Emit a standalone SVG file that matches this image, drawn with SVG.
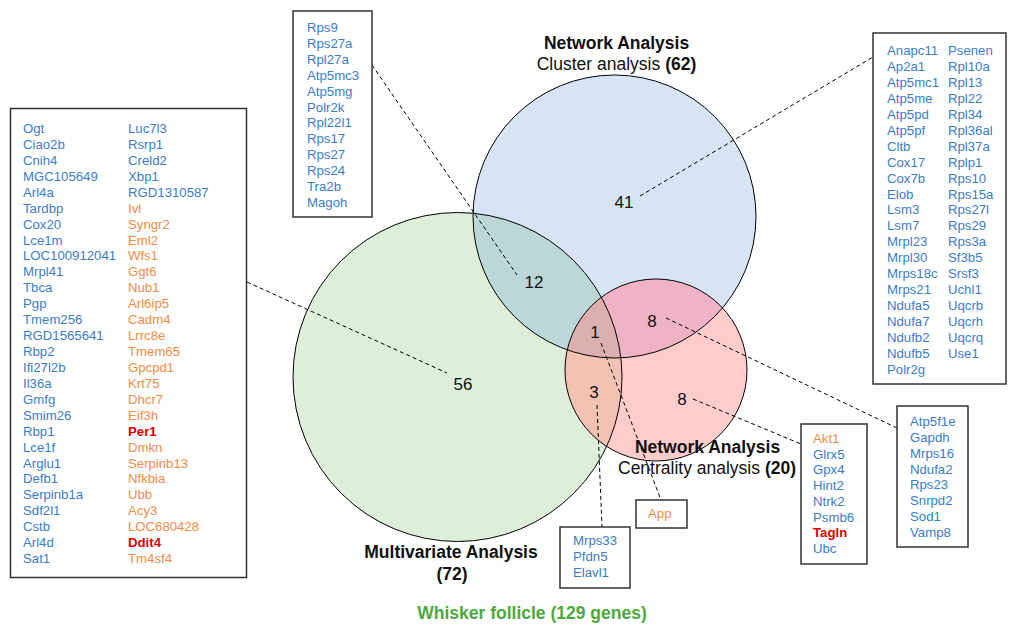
<svg xmlns="http://www.w3.org/2000/svg" width="1012" height="626" viewBox="0 0 1012 626">
<style>
text{font-family:"Liberation Sans",Arial,sans-serif}
.g{font-size:13.2px;fill:#3a7dc9}
.o{fill:#f28b45}
.r{fill:#e00000;font-weight:bold}
.box{fill:#fff;stroke:#333;stroke-width:1.5}
.lead{fill:none;stroke:#000;stroke-width:1;stroke-dasharray:4 3}
.num{font-size:17px;fill:#111;text-anchor:middle}
.h{font-size:17.5px;fill:#111;text-anchor:middle}
.bold{font-weight:bold}
.ring{fill:none;stroke:#000;stroke-width:1}
</style>
<defs>
<clipPath id="cB"><circle cx="614.5" cy="216.5" r="141.5"/></clipPath>
<clipPath id="cG"><circle cx="457.5" cy="377" r="164.5"/></clipPath>
<clipPath id="cP"><circle cx="656" cy="370" r="91"/></clipPath>
</defs>
<rect width="1012" height="626" fill="#fff"/>
<g id="venn">
<circle cx="457.5" cy="377" r="164.5" fill="#ddefd9"/>
<circle cx="614.5" cy="216.5" r="141.5" fill="#d6e4f3"/>
<circle cx="656" cy="370" r="91" fill="#ffcccc"/>
<circle cx="614.5" cy="216.5" r="141.5" fill="#bcd7d8" clip-path="url(#cG)"/>
<circle cx="656" cy="370" r="91" fill="#eeb4c6" clip-path="url(#cB)"/>
<circle cx="656" cy="370" r="91" fill="#f4c2b2" clip-path="url(#cG)"/>
<g clip-path="url(#cG)"><circle cx="656" cy="370" r="91" fill="#dcb0ae" clip-path="url(#cB)"/></g>
<circle class="ring" cx="457.5" cy="377" r="164.5"/>
<circle class="ring" cx="614.5" cy="216.5" r="141.5"/>
<circle class="ring" cx="656" cy="370" r="91"/>
</g>
<g id="connectors">
<line class="lead" x1="247" y1="282" x2="447" y2="373"/>
<line class="lead" x1="372" y1="65" x2="517" y2="275"/>
<line class="lead" x1="640" y1="196" x2="873" y2="57"/>
<line class="lead" x1="666" y1="318" x2="897" y2="428"/>
<line class="lead" x1="693" y1="399" x2="801" y2="444"/>
<line class="lead" x1="601" y1="343" x2="661" y2="500"/>
<line class="lead" x1="597" y1="405" x2="602" y2="527"/>
</g>
<g id="counts">
<text class="num" x="624" y="208">41</text>
<text class="num" x="534" y="288">12</text>
<text class="num" x="652" y="327">8</text>
<text class="num" x="595" y="338">1</text>
<text class="num" x="463" y="390">56</text>
<text class="num" x="594" y="398">3</text>
<text class="num" x="682" y="405">8</text>
</g>
<g id="label-cluster">
<text class="h bold" x="616.5" y="49">Network Analysis</text>
<text class="h" x="616.5" y="70">Cluster analysis <tspan class="bold">(62)</tspan></text>
</g>
<g id="label-centrality">
<text class="h bold" x="707.5" y="453">Network Analysis</text>
<text class="h" x="707" y="474">Centrality analysis <tspan class="bold">(20)</tspan></text>
</g>
<g id="label-multivariate">
<text class="h bold" x="451" y="558">Multivariate Analysis</text>
<text class="h bold" x="452" y="580">(72)</text>
</g>
<g id="title">
<text class="h bold" x="532" y="619" style="fill:#4caa3c">Whisker follicle (129 genes)</text>
</g>
<g id="box-multivariate">
<rect class="box" x="10.5" y="108.5" width="236" height="469"/>
<text class="g" x="23" y="133"><tspan x="23" dy="0">Ogt</tspan><tspan x="23" dy="15.93">Ciao2b</tspan><tspan x="23" dy="15.93">Cnih4</tspan><tspan x="23" dy="15.93">MGC105649</tspan><tspan x="23" dy="15.93">Arl4a</tspan><tspan x="23" dy="15.93">Tardbp</tspan><tspan x="23" dy="15.93">Cox20</tspan><tspan x="23" dy="15.93">Lce1m</tspan><tspan x="23" dy="15.93">LOC100912041</tspan><tspan x="23" dy="15.93">Mrpl41</tspan><tspan x="23" dy="15.93">Tbca</tspan><tspan x="23" dy="15.93">Pgp</tspan><tspan x="23" dy="15.93">Tmem256</tspan><tspan x="23" dy="15.93">RGD1565641</tspan><tspan x="23" dy="15.93">Rbp2</tspan><tspan x="23" dy="15.93">Ifi27l2b</tspan><tspan x="23" dy="15.93">Il36a</tspan><tspan x="23" dy="15.93">Gmfg</tspan><tspan x="23" dy="15.93">Smim26</tspan><tspan x="23" dy="15.93">Rbp1</tspan><tspan x="23" dy="15.93">Lce1f</tspan><tspan x="23" dy="15.93">Arglu1</tspan><tspan x="23" dy="15.93">Defb1</tspan><tspan x="23" dy="15.93">Serpinb1a</tspan><tspan x="23" dy="15.93">Sdf2l1</tspan><tspan x="23" dy="15.93">Cstb</tspan><tspan x="23" dy="15.93">Arl4d</tspan><tspan x="23" dy="15.93">Sat1</tspan></text>
<text class="g" x="128" y="133"><tspan x="128" dy="0">Luc7l3</tspan><tspan x="128" dy="15.93">Rsrp1</tspan><tspan x="128" dy="15.93">Creld2</tspan><tspan x="128" dy="15.93">Xbp1</tspan><tspan x="128" dy="15.93">RGD1310587</tspan><tspan class="o" x="128" dy="15.93">Ivl</tspan><tspan class="o" x="128" dy="15.93">Syngr2</tspan><tspan class="o" x="128" dy="15.93">Eml2</tspan><tspan class="o" x="128" dy="15.93">Wfs1</tspan><tspan class="o" x="128" dy="15.93">Ggt6</tspan><tspan class="o" x="128" dy="15.93">Nub1</tspan><tspan class="o" x="128" dy="15.93">Arl6ip5</tspan><tspan class="o" x="128" dy="15.93">Cadm4</tspan><tspan class="o" x="128" dy="15.93">Lrrc8e</tspan><tspan class="o" x="128" dy="15.93">Tmem65</tspan><tspan class="o" x="128" dy="15.93">Gpcpd1</tspan><tspan class="o" x="128" dy="15.93">Krt75</tspan><tspan class="o" x="128" dy="15.93">Dhcr7</tspan><tspan class="o" x="128" dy="15.93">Eif3h</tspan><tspan class="r" x="128" dy="15.93">Per1</tspan><tspan class="o" x="128" dy="15.93">Dmkn</tspan><tspan class="o" x="128" dy="15.93">Serpinb13</tspan><tspan class="o" x="128" dy="15.93">Nfkbia</tspan><tspan class="o" x="128" dy="15.93">Ubb</tspan><tspan class="o" x="128" dy="15.93">Acy3</tspan><tspan class="o" x="128" dy="15.93">LOC680428</tspan><tspan class="r" x="128" dy="15.93">Ddit4</tspan><tspan class="o" x="128" dy="15.93">Tm4sf4</tspan></text>
</g>
<g id="box-12">
<rect class="box" x="293" y="11" width="79" height="206"/>
<text class="g" x="307" y="32"><tspan x="307" dy="0">Rps9</tspan><tspan x="307" dy="15.9">Rps27a</tspan><tspan x="307" dy="15.9">Rpl27a</tspan><tspan x="307" dy="15.9">Atp5mc3</tspan><tspan x="307" dy="15.9">Atp5mg</tspan><tspan x="307" dy="15.9">Polr2k</tspan><tspan x="307" dy="15.9">Rpl22l1</tspan><tspan x="307" dy="15.9">Rps17</tspan><tspan x="307" dy="15.9">Rps27</tspan><tspan x="307" dy="15.9">Rps24</tspan><tspan x="307" dy="15.9">Tra2b</tspan><tspan x="307" dy="15.9">Magoh</tspan></text>
</g>
<g id="box-41">
<rect class="box" x="873" y="33" width="133" height="351"/>
<text class="g" x="887" y="55"><tspan x="887" dy="0">Anapc11</tspan><tspan x="887" dy="15.95">Ap2a1</tspan><tspan x="887" dy="15.95">Atp5mc1</tspan><tspan x="887" dy="15.95">Atp5me</tspan><tspan x="887" dy="15.95">Atp5pd</tspan><tspan x="887" dy="15.95">Atp5pf</tspan><tspan x="887" dy="15.95">Cltb</tspan><tspan x="887" dy="15.95">Cox17</tspan><tspan x="887" dy="15.95">Cox7b</tspan><tspan x="887" dy="15.95">Elob</tspan><tspan x="887" dy="15.95">Lsm3</tspan><tspan x="887" dy="15.95">Lsm7</tspan><tspan x="887" dy="15.95">Mrpl23</tspan><tspan x="887" dy="15.95">Mrpl30</tspan><tspan x="887" dy="15.95">Mrps18c</tspan><tspan x="887" dy="15.95">Mrps21</tspan><tspan x="887" dy="15.95">Ndufa5</tspan><tspan x="887" dy="15.95">Ndufa7</tspan><tspan x="887" dy="15.95">Ndufb2</tspan><tspan x="887" dy="15.95">Ndufb5</tspan><tspan x="887" dy="15.95">Polr2g</tspan></text>
<text class="g" x="948" y="55"><tspan x="948" dy="0">Psenen</tspan><tspan x="948" dy="15.95">Rpl10a</tspan><tspan x="948" dy="15.95">Rpl13</tspan><tspan x="948" dy="15.95">Rpl22</tspan><tspan x="948" dy="15.95">Rpl34</tspan><tspan x="948" dy="15.95">Rpl36al</tspan><tspan x="948" dy="15.95">Rpl37a</tspan><tspan x="948" dy="15.95">Rplp1</tspan><tspan x="948" dy="15.95">Rps10</tspan><tspan x="948" dy="15.95">Rps15a</tspan><tspan x="948" dy="15.95">Rps27l</tspan><tspan x="948" dy="15.95">Rps29</tspan><tspan x="948" dy="15.95">Rps3a</tspan><tspan x="948" dy="15.95">Sf3b5</tspan><tspan x="948" dy="15.95">Srsf3</tspan><tspan x="948" dy="15.95">Uchl1</tspan><tspan x="948" dy="15.95">Uqcrb</tspan><tspan x="948" dy="15.95">Uqcrh</tspan><tspan x="948" dy="15.95">Uqcrq</tspan><tspan x="948" dy="15.95">Use1</tspan></text>
</g>
<g id="box-8-upper">
<rect class="box" x="897" y="406" width="71" height="141"/>
<text class="g" x="910" y="426"><tspan x="910" dy="0">Atp5f1e</tspan><tspan x="910" dy="15.86">Gapdh</tspan><tspan x="910" dy="15.86">Mrps16</tspan><tspan x="910" dy="15.86">Ndufa2</tspan><tspan x="910" dy="15.86">Rps23</tspan><tspan x="910" dy="15.86">Snrpd2</tspan><tspan x="910" dy="15.86">Sod1</tspan><tspan x="910" dy="15.86">Vamp8</tspan></text>
</g>
<g id="box-8-lower">
<rect class="box" x="801" y="424" width="66" height="140"/>
<text class="g" x="813" y="443"><tspan class="o" x="813" dy="0">Akt1</tspan><tspan x="813" dy="15.7">Glrx5</tspan><tspan x="813" dy="15.7">Gpx4</tspan><tspan x="813" dy="15.7">Hint2</tspan><tspan x="813" dy="15.7">Ntrk2</tspan><tspan x="813" dy="15.7">Psmb6</tspan><tspan class="r" x="813" dy="15.7">Tagln</tspan><tspan x="813" dy="15.7">Ubc</tspan></text>
</g>
<g id="box-1">
<rect class="box" x="636" y="500" width="51" height="28"/>
<text class="g o" x="648" y="518">App</text>
</g>
<g id="box-3">
<rect class="box" x="560" y="527" width="70" height="61"/>
<text class="g" x="573" y="545"><tspan x="573" dy="0">Mrps33</tspan><tspan x="573" dy="16">Pfdn5</tspan><tspan x="573" dy="16">Elavl1</tspan></text>
</g>
</svg>
